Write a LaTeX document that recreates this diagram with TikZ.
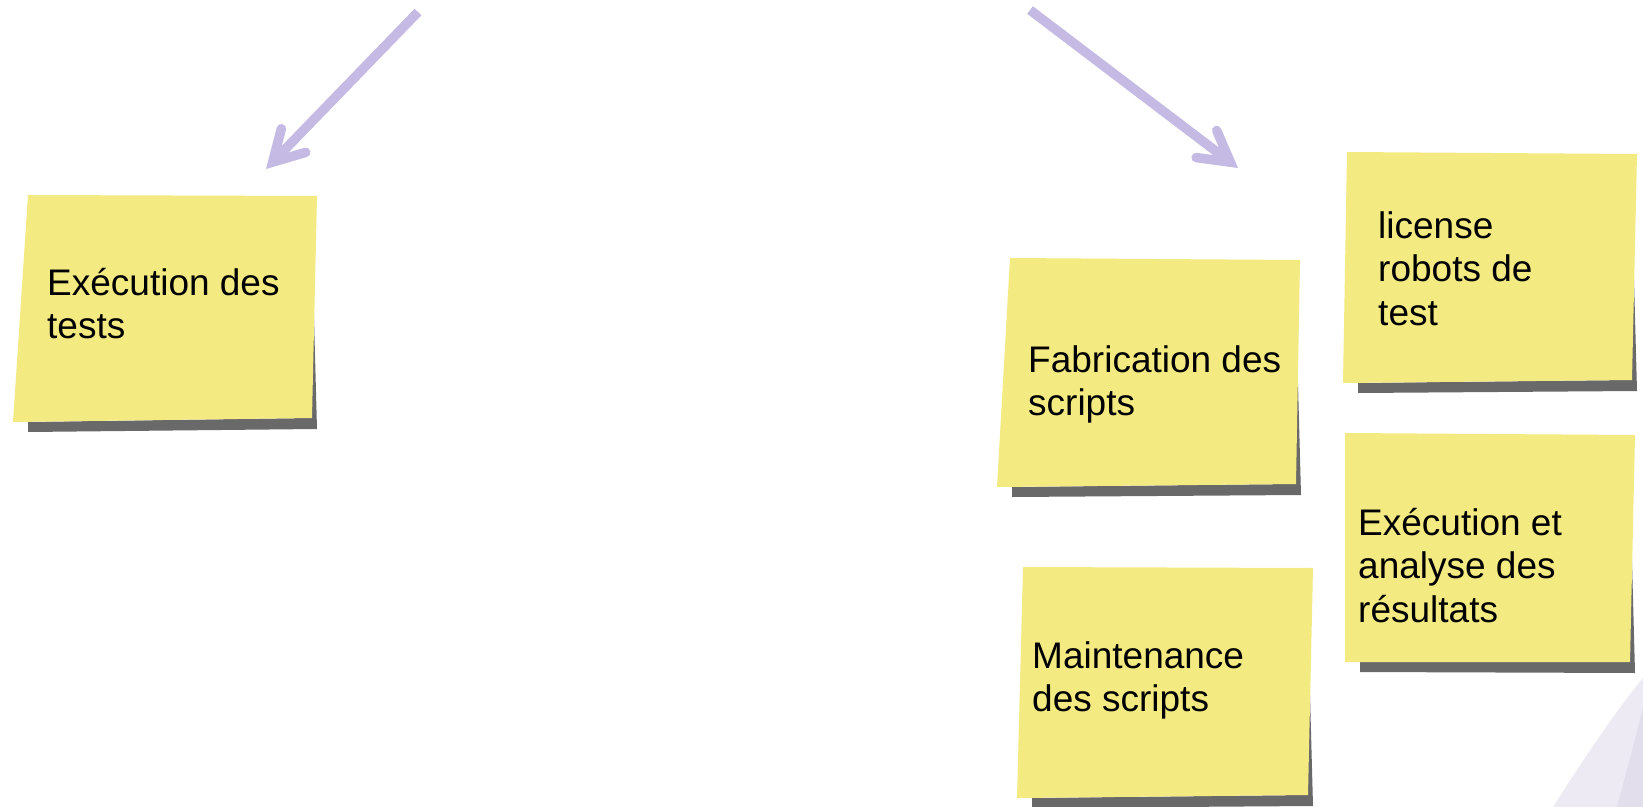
\documentclass[tikz,border=0pt]{standalone}
\usepackage{fontspec}
\setmainfont{Liberation Sans}
\usetikzlibrary{arrows.meta,calc}

\definecolor{notefill}{RGB}{243,235,130}
\definecolor{noteshadow}{RGB}{105,105,105}
\definecolor{arrowc}{RGB}{196,186,228}
\definecolor{swoosha}{RGB}{237,234,243}
\definecolor{swooshb}{RGB}{226,222,235}

\tikzset{
  % placed at the baseline of the last line
  notetext/.style={anchor=base west, inner sep=0pt, align=left,
    font=\fontsize{37bp}{43.5bp}\selectfont, text=black},
  flow/.style={draw=arrowc, line width=9.5bp, line cap=butt,
    -{Straight Barb[length=30bp,width=34bp,line cap=round,line join=miter]}},
}

% sticky note: corners top-left, top-right, bottom-right, bottom-left
\newcommand\stickynote[4]{%
  \fill[noteshadow] ($#4+(15,0)$) -- #3 -- ($#3+(0,-100)$) -- ($#3+(2,-100)$)
    -- ($#3+(5,11)$) -- ($#4+(15,10)$) -- cycle;
  \fill[notefill] #1 -- #2 -- #3 -- #4 -- cycle;
}

\begin{document}
\begin{tikzpicture}[x=1bp,y=-1bp]
  \useasboundingbox (0,0) rectangle (1643,807);
  \fill[white] (0,0) rectangle (1643,807);

  % background swooshes in the lower right corner
  \fill[swoosha] (1553,807) .. controls (1585,757) and (1615,712) .. (1643,678)
    -- (1643,807) -- cycle;
  \fill[swooshb] (1617,807) .. controls (1627,770) and (1636,735) .. (1643,708)
    -- (1643,807) -- cycle;

  % notes
  \stickynote{(28,195)}{(317,196)}{(312,418)}{(13,422)}
  \stickynote{(1010,258)}{(1300,260)}{(1296,484)}{(997,487)}
  \stickynote{(1347,152)}{(1637,154)}{(1632,380)}{(1343,383)}
  \stickynote{(1345,433)}{(1635,435)}{(1630,662)}{(1345,662)}
  \stickynote{(1023,567)}{(1313,568)}{(1308,795)}{(1017,798)}

  \node[notetext] (exec) at (47,338.5) {Exécution des\\tests};
  \node[notetext] (fab) at (1028,415.5) {Fabrication des\\scripts};
  \node[notetext] (lic) at (1378,325) {license\\robots de\\test};
  \node[notetext] (anal) at (1358,622) {Exécution et\\analyse des\\résultats};
  \node[notetext] (maint) at (1032,711.5) {Maintenance\\des scripts};

  % arrows
  \coordinate (a1from) at (418,12);
  \coordinate (a1to) at (266,169);
  \coordinate (a2from) at (1030,10);
  \coordinate (a2to) at (1238,168);
  \draw[flow] (a1from) -- (a1to);
  \draw[flow] (a2from) -- (a2to);
\end{tikzpicture}
\end{document}
